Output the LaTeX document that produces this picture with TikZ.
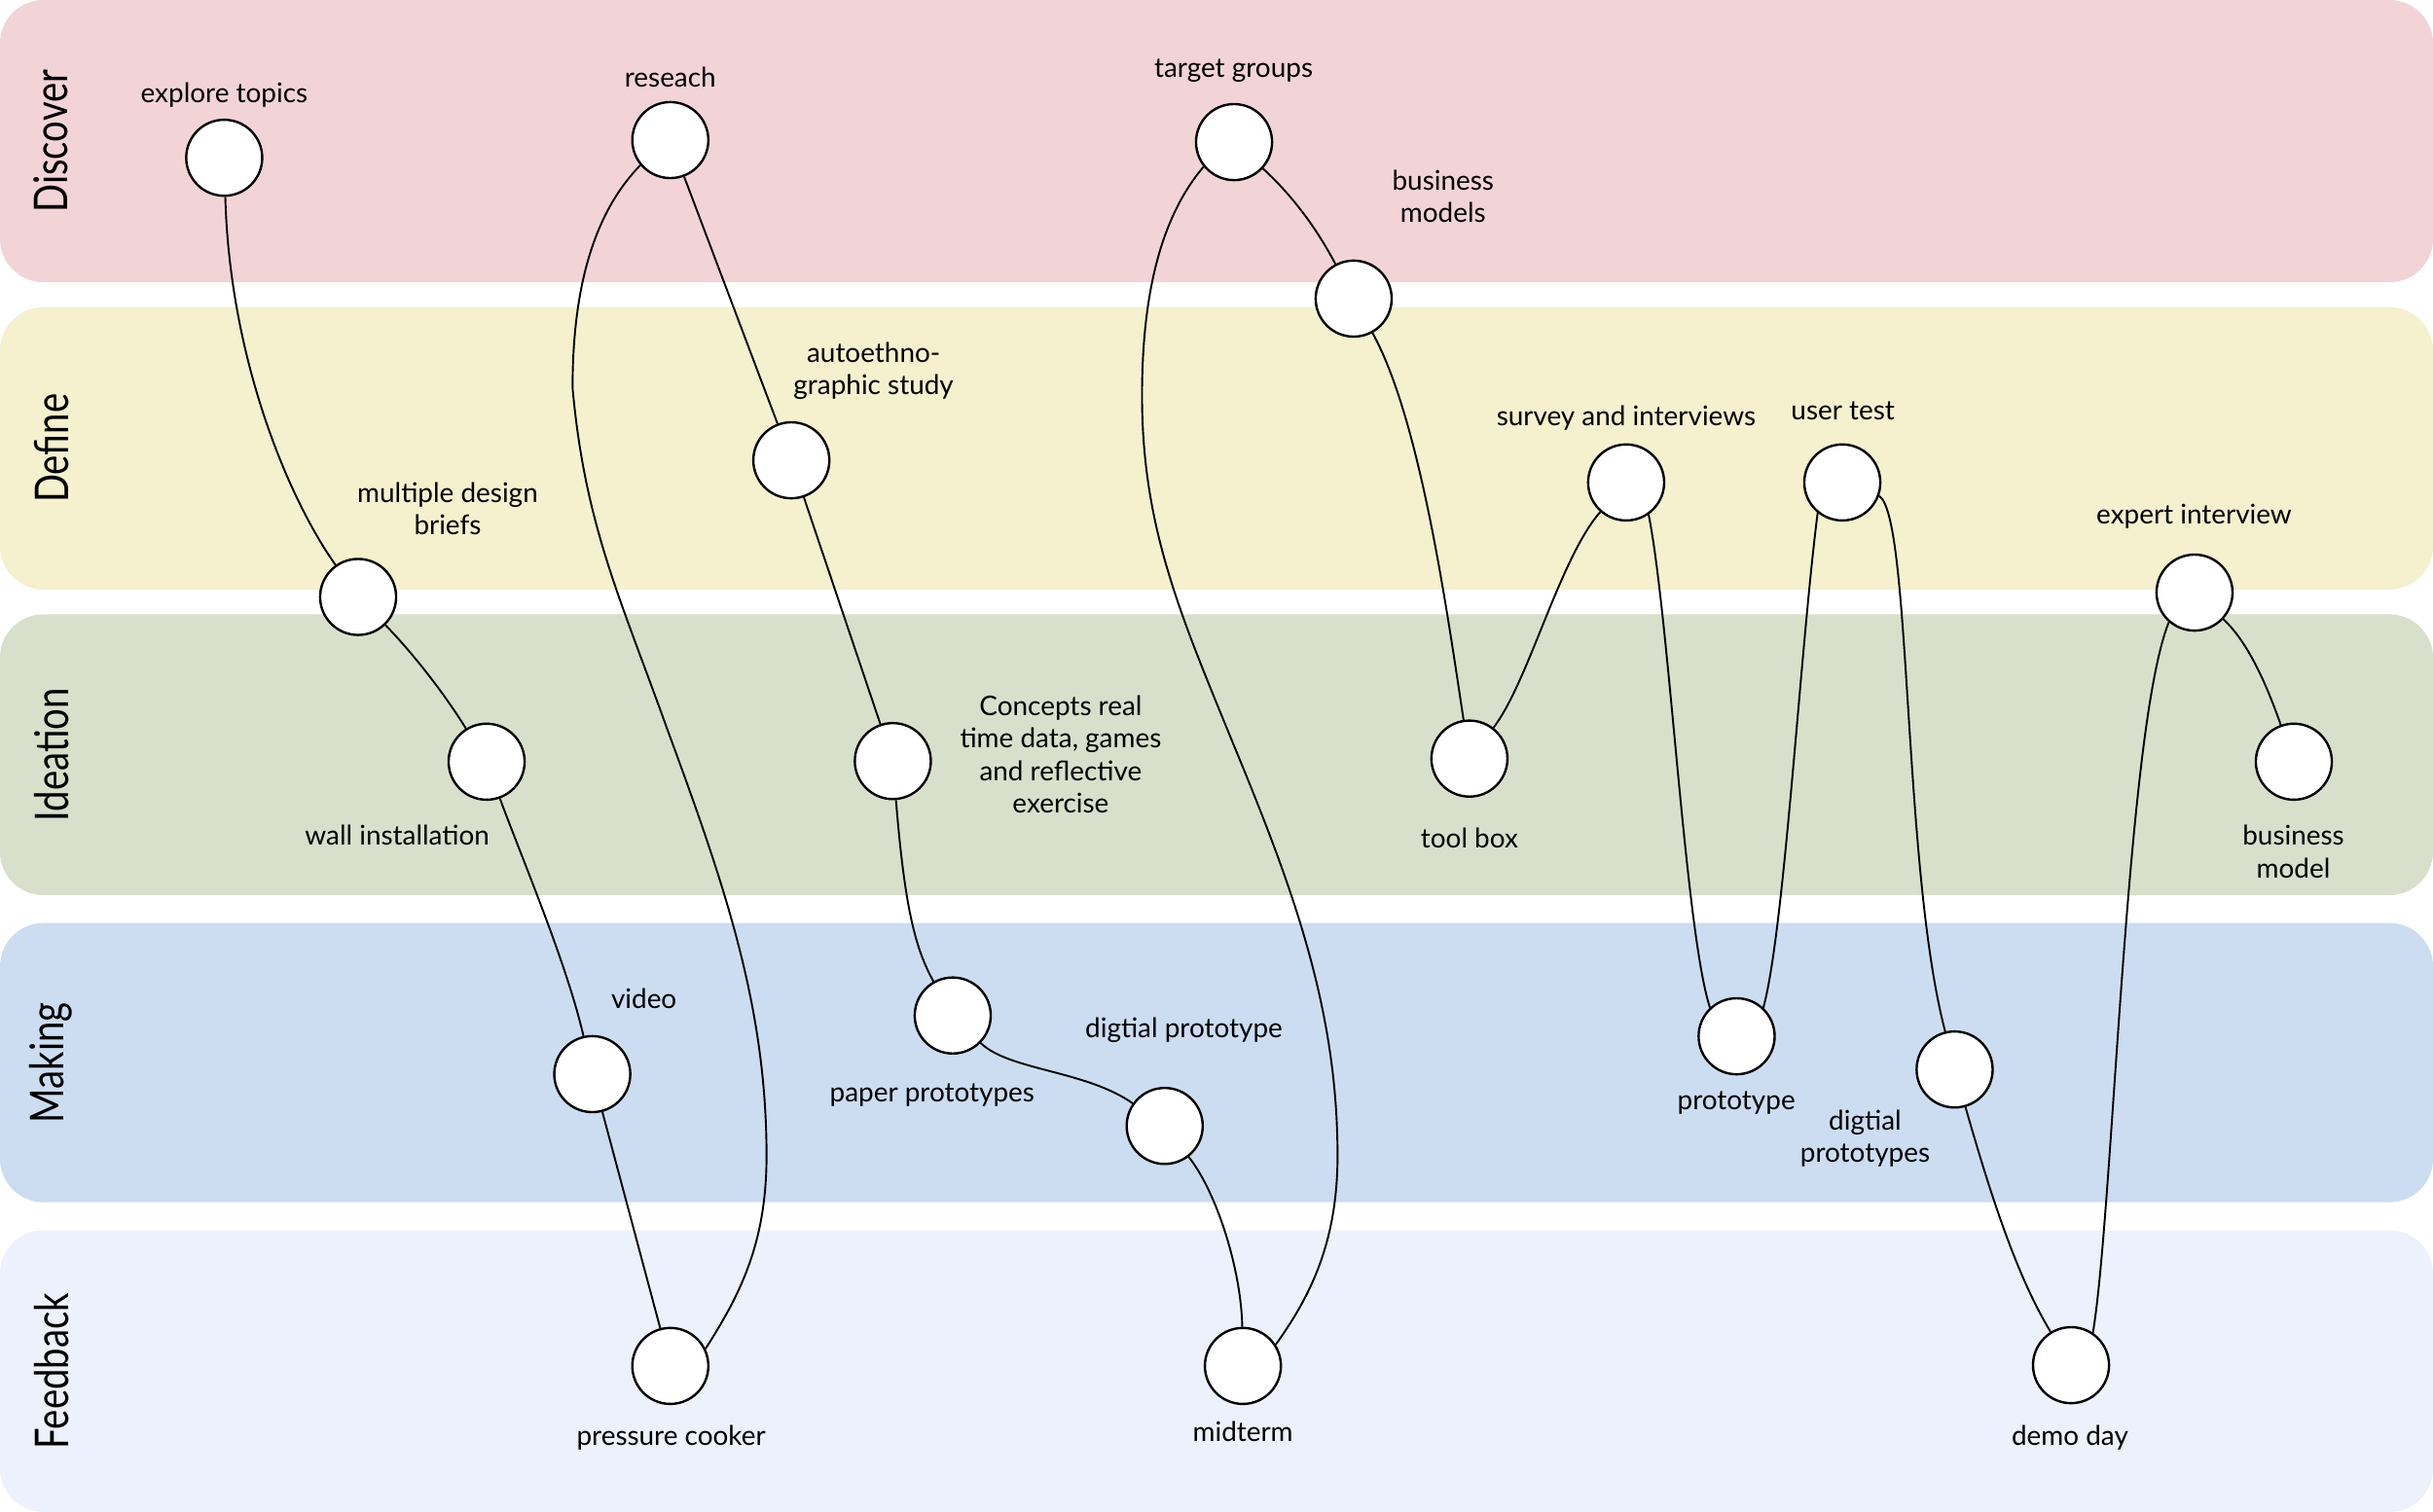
\documentclass[tikz,border=0pt]{standalone}
\usepackage{fontspec}
\setmainfont{Lato}
\newfontfamily\bandfam[FakeStretch=0.8]{Lato}
\definecolor{cDiscover}{HTML}{F2D4D7}
\definecolor{cDefine}{HTML}{F5F0CE}
\definecolor{cIdeation}{HTML}{D8E0CB}
\definecolor{cMaking}{HTML}{CCDDF2}
\definecolor{cFeedback}{HTML}{ECF1FB}
\tikzset{
  dot/.style={circle, draw=black, fill=white, line width=1.5pt, minimum size=49pt, inner sep=0pt},
  lab/.style={font=\fontsize{17.5}{21}\selectfont, align=center, inner sep=0pt},
  band/.style={rounded corners=28pt},
  conn/.style={line width=1.2pt, draw=black},
  phase/.style={font=\bandfam\fontsize{30}{30}\selectfont, rotate=90, inner sep=0pt}
}
\begin{document}
\begin{tikzpicture}[x=1pt,y=-1pt]
\useasboundingbox (0,0) rectangle (1568,974.6);
% bands
\fill[band,cDiscover] (0,0) rectangle (1568,182);
\fill[band,cDefine] (0,198) rectangle (1568,380);
\fill[band,cIdeation] (0,396) rectangle (1568,577);
\fill[band,cMaking] (0,595) rectangle (1568,775);
\fill[band,cFeedback] (0,793) rectangle (1568,974.6);
\node[phase] (pDiscover) at (33,91) {Discover};
\node[phase] (pDefine) at (33,289) {Define};
\node[phase] (pIdeation) at (33,486.5) {Ideation};
\node[phase] (pMaking) at (33,685) {Making};
\node[phase] (pFeedback) at (33,883.8) {Feedback};
% nodes
\node[dot] (ex) at (144.5,101.7) {};
\node[dot] (re) at (432,90.3) {};
\node[dot] (tg) at (795.3,91.6) {};
\node[dot] (bm) at (872.4,192.5) {};
\node[dot] (au) at (510,296.7) {};
\node[dot] (md) at (230.8,384.8) {};
\node[dot] (wi) at (313.6,491) {};
\node[dot] (co) at (575.4,490.6) {};
\node[dot] (tb) at (947,489) {};
\node[dot] (su) at (1048,311) {};
\node[dot] (ut) at (1187.3,311) {};
\node[dot] (ei) at (1414.3,382) {};
\node[dot] (bmo) at (1478.3,491) {};
\node[dot] (vi) at (381.7,692.4) {};
\node[dot] (pp) at (614,654.6) {};
\node[dot] (dp) at (750.6,725.8) {};
\node[dot] (pr) at (1119.2,668) {};
\node[dot] (dps) at (1259.7,689.4) {};
\node[dot] (pc) at (432,880.5) {};
\node[dot] (mt) at (801,880.5) {};
\node[dot] (dd) at (1334.7,880) {};
% labels
\node[lab] (lex) at (144.5,61) {explore topics};
\node[lab] (lre) at (432,50) {reseach};
\node[lab] (ltg) at (795,45.5) {target groups};
\node[lab] (lbm) at (930,126.5) {business\\models};
\node[lab] (lau) at (563,239) {autoethno-\\graphic study};
\node[lab] (lmd) at (288.5,328) {multiple design\\briefs};
\node[lab] (lwi) at (256,538.3) {wall installation};
\node[lab] (lco) at (683.6,486.4) {Concepts real\\time data, games\\and reflective\\exercise};
\node[lab] (ltb) at (947,540) {tool box};
\node[lab] (lsu) at (1048,269.7) {survey and interviews};
\node[lab] (lut) at (1187.7,264.8) {user test};
\node[lab] (lei) at (1414,333) {expert interview};
\node[lab] (lbmo) at (1478,549) {business\\model};
\node[lab] (lvi) at (415,643.8) {video};
\node[lab] (lpp) at (600.7,705.9) {paper prototypes};
\node[lab] (ldp) at (763,664) {digtial prototype};
\node[lab] (lpr) at (1119,711) {prototype};
\node[lab] (ldps) at (1202,734) {digtial\\prototypes};
\node[lab] (lpc) at (432.5,926.7) {pressure cooker};
\node[lab] (lmt) at (801,923) {midterm};
\node[lab] (ldd) at (1334,927) {demo day};
% connectors
\draw[conn] (ex) .. controls (148,230) and (185,320) .. (md);
\draw[conn] (md) .. controls (265,420) and (285,445) .. (wi);
\draw[conn] (wi) .. controls (335,550) and (365,620) .. (vi);
\draw[conn] (vi) -- (pc);
\draw[conn] (pc.26) .. controls (478,833) and (494,800) .. (494,745)
  .. controls (494,650) and (468,573) .. (430,470)
  .. controls (400,386) and (377,339) .. (369,250)
  .. controls (369,192) and (380,140) .. (re.220);
\draw[conn] (re) -- (au);
\draw[conn] (au) -- (co);
\draw[conn] (co) .. controls (583,585) and (590,612) .. (pp);
\draw[conn] (pp) .. controls (650,690) and (700,690) .. (dp);
\draw[conn] (dp) .. controls (785,770) and (800,820) .. (mt);
\draw[conn] (mt.33) .. controls (845,835) and (862,800) .. (862,745)
  .. controls (862,650) and (833,572) .. (795,480)
  .. controls (761,397) and (736,340) .. (736,255)
  .. controls (736,190) and (748,140) .. (tg.219);
\draw[conn] (tg) .. controls (835,128) and (850,150) .. (bm);
\draw[conn] (bm) .. controls (915,270) and (932,390) .. (tb);
\draw[conn] (tb) .. controls (985,440) and (1005,360) .. (su);
\draw[conn] (su.-55) .. controls (1076,400) and (1086,600) .. (pr.133);
\draw[conn] (pr.47) .. controls (1150,600) and (1160,420) .. (ut.-129);
\draw[conn] (ut.-20) .. controls (1232,333) and (1226,560) .. (dps.104);
\draw[conn] (dps) .. controls (1280,760) and (1298,820) .. (dd);
\draw[conn] (dd.56) .. controls (1362,780) and (1370,470) .. (ei.-131);
\draw[conn] (ei) .. controls (1450,415) and (1462,445) .. (bmo);
\end{tikzpicture}
\end{document}
